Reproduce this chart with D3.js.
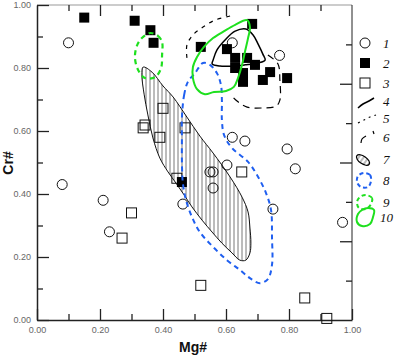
<!DOCTYPE html>
<html><head><meta charset="utf-8">
<script src="https://cdn.jsdelivr.net/npm/d3@7"></script>
<style>body{margin:0;background:#fff}svg{display:block}</style>
</head><body><svg id="c" width="400" height="360"></svg>
<script>
// ---- data (Mg#, Cr#) ----
const openCircles = [[0.10,0.88],[0.08,0.43],[0.21,0.38],[0.23,0.28],[0.463,0.368],[0.62,0.88],[0.77,0.84],
  [0.62,0.58],[0.66,0.568],[0.794,0.543],[0.82,0.48],[0.603,0.492],[0.549,0.47],[0.559,0.47],[0.559,0.419],
  [0.749,0.352],[0.97,0.31]];
const filledSquares = [[0.15,0.96],[0.31,0.95],[0.36,0.92],[0.37,0.88],[0.46,0.438],[0.683,0.94],[0.52,0.867],
  [0.603,0.86],[0.629,0.832],[0.667,0.832],[0.692,0.81],[0.629,0.80],[0.654,0.784],[0.654,0.756],[0.717,0.762],
  [0.74,0.787],[0.794,0.768]];
const openSquares = [[0.40,0.672],[0.343,0.619],[0.337,0.61],[0.39,0.58],[0.47,0.61],[0.444,0.45],[0.30,0.34],
  [0.27,0.26],[0.65,0.47],[0.52,0.11],[0.85,0.07],[0.92,0.005]];
// field 4: solid black
const field4 = [[0.559,0.825],[0.571,0.857],[0.597,0.889],[0.629,0.917],[0.663,0.924],[0.686,0.905],[0.702,0.876],
  [0.717,0.844],[0.724,0.825],[0.702,0.816],[0.660,0.810],[0.619,0.806],[0.581,0.806],[0.556,0.813]];
// field 5: short dashes
const field5 = [[0.476,0.832],[0.476,0.873],[0.495,0.905],[0.527,0.930],[0.565,0.952],[0.613,0.965]];
// field 6: long dashes
const field6 = [[0.733,0.841],[0.765,0.813],[0.771,0.762],[0.771,0.698],[0.759,0.679],[0.714,0.673],[0.667,0.676],
  [0.635,0.695],[0.613,0.717]];
// field 7: hatched
const field7 = [[0.337,0.803],[0.365,0.787],[0.400,0.743],[0.432,0.708],[0.476,0.644],[0.517,0.584],[0.559,0.530],
  [0.613,0.454],[0.651,0.390],[0.670,0.343],[0.676,0.292],[0.679,0.244],[0.676,0.213],[0.663,0.190],[0.644,0.190],
  [0.619,0.213],[0.587,0.244],[0.556,0.279],[0.524,0.317],[0.492,0.359],[0.467,0.397],[0.441,0.435],[0.416,0.470],
  [0.390,0.514],[0.368,0.578],[0.352,0.651],[0.340,0.717],[0.333,0.778]];
// field 8: blue dashed
const field8 = [[0.460,0.641],[0.467,0.714],[0.479,0.756],[0.502,0.784],[0.527,0.816],[0.549,0.810],[0.571,0.784],
  [0.584,0.746],[0.587,0.698],[0.587,0.635],[0.594,0.587],[0.619,0.546],[0.670,0.502],[0.702,0.454],[0.727,0.403],
  [0.743,0.349],[0.746,0.263],[0.746,0.175],[0.733,0.130],[0.708,0.117],[0.676,0.133],[0.644,0.159],[0.603,0.190],
  [0.559,0.232],[0.517,0.279],[0.492,0.327],[0.473,0.381],[0.463,0.435],[0.460,0.508],[0.460,0.581]];
// field 9: green dashed
const field9 = [[0.359,0.911],[0.384,0.902],[0.397,0.883],[0.397,0.841],[0.394,0.800],[0.375,0.771],[0.343,0.768],
  [0.321,0.794],[0.311,0.832],[0.317,0.870],[0.333,0.895]];
// field 10: green solid
const field10 = [[0.667,0.952],[0.676,0.930],[0.670,0.895],[0.660,0.851],[0.651,0.810],[0.638,0.768],[0.625,0.740],
  [0.600,0.727],[0.562,0.724],[0.533,0.717],[0.508,0.733],[0.495,0.768],[0.495,0.803],[0.508,0.835],[0.530,0.867],
  [0.559,0.895],[0.594,0.917],[0.629,0.937]];
const xTicks = [0,0.2,0.4,0.6,0.8,1.0];
const yTicks = [0,0.2,0.4,0.6,0.8,1.0];
const legendLabels = ["1","2","3","4","5","6","7","8","9","10"];

const BLUE = "#1f5ff0", GREEN = "#1ee01e";
const svg = d3.select("#c");
const x = d3.scaleLinear().domain([0,1]).range([37,352]);
const y = d3.scaleLinear().domain([0,1]).range([320,5]);
const yR = d3.scaleLinear().domain([0,1]).range([320,5]);

const defs = svg.append("defs");
const pat = defs.append("pattern").attr("id","hatch").attr("patternUnits","userSpaceOnUse")
  .attr("width",4).attr("height",4);
pat.append("line").attr("x1",2).attr("x2",2).attr("y1",0).attr("y2",4).attr("stroke","#555").attr("stroke-width",0.8);

// frame top/right
svg.append("line").attr("x1",37).attr("x2",352).attr("y1",5).attr("y2",5).attr("stroke","#999").attr("stroke-width",1);
svg.append("line").attr("x1",352).attr("x2",352).attr("y1",5).attr("y2",320).attr("stroke","#222").attr("stroke-width",1);

const fmt = d3.format(".2f");
function styleAxis(g){ g.selectAll("line").attr("stroke","#222").attr("stroke-width",1.3);
  g.selectAll("path").attr("stroke","#222").attr("stroke-width",1.5);
  g.selectAll("text").attr("fill","#666").attr("font-family","Liberation Sans, Arial, sans-serif").attr("font-size",9); }
const minorX = d3.range(0.1,1,0.2);
// bottom
svg.append("g").attr("transform","translate(0,320)")
  .call(d3.axisBottom(x).tickValues(xTicks).tickFormat(fmt).tickSizeInner(-11).tickSizeOuter(0).tickPadding(7)).call(styleAxis);
svg.append("g").attr("transform","translate(0,320)")
  .call(d3.axisBottom(x).tickValues(minorX).tickFormat("").tickSizeInner(-6).tickSizeOuter(0)).call(styleAxis)
  .select(".domain").remove();
// left
svg.append("g").attr("transform","translate(37,0)")
  .call(d3.axisLeft(y).tickValues(yTicks).tickFormat(fmt).tickSizeInner(-12).tickSizeOuter(0).tickPadding(6)).call(styleAxis);
svg.append("g").attr("transform","translate(37,0)")
  .call(d3.axisLeft(y).tickValues(minorX).tickFormat("").tickSizeInner(-6).tickSizeOuter(0)).call(styleAxis)
  .select(".domain").remove();
// top
svg.append("g").attr("transform","translate(0,5)")
  .call(d3.axisTop(x).tickValues([0.2,0.4,0.6,0.8]).tickFormat("").tickSizeInner(-11).tickSizeOuter(0)).call(styleAxis)
  .select(".domain").remove();
svg.append("g").attr("transform","translate(0,5)")
  .call(d3.axisTop(x).tickValues(minorX).tickFormat("").tickSizeInner(-6).tickSizeOuter(0)).call(styleAxis)
  .select(".domain").remove();
// right (different division)
svg.append("g").attr("transform","translate(352,0)")
  .call(d3.axisRight(yR).tickValues([0.25,0.5,0.75]).tickFormat("").tickSizeInner(-12).tickSizeOuter(0)).call(styleAxis)
  .select(".domain").remove();
svg.append("g").attr("transform","translate(352,0)")
  .call(d3.axisRight(yR).tickValues([0.125,0.375,0.625,0.875]).tickFormat("").tickSizeInner(-6).tickSizeOuter(0)).call(styleAxis)
  .select(".domain").remove();

// axis titles
svg.append("text").attr("x",193).attr("y",352).attr("text-anchor","middle").attr("font-family","Liberation Sans, Arial, sans-serif")
  .attr("font-weight","bold").attr("font-size",14).attr("fill","#111").text("Mg#");
svg.append("text").attr("transform","translate(13,163) rotate(-90)").attr("text-anchor","middle").attr("font-family","Liberation Sans, Arial, sans-serif")
  .attr("font-weight","bold").attr("font-size",14).attr("fill","#111").text("Cr#");

const closed = d3.line().x(d=>x(d[0])).y(d=>y(d[1])).curve(d3.curveCatmullRomClosed.alpha(0.5));
const open = d3.line().x(d=>x(d[0])).y(d=>y(d[1])).curve(d3.curveCatmullRom.alpha(0.5));

// hatched field 7
svg.append("path").attr("d",closed(field7)).attr("fill","url(#hatch)").attr("stroke","#111").attr("stroke-width",1);

// points
svg.append("g").selectAll("circle").data(openCircles).join("circle")
  .attr("cx",d=>x(d[0])).attr("cy",d=>y(d[1])).attr("r",5).attr("fill","none").attr("stroke","#111").attr("stroke-width",1);
svg.append("g").selectAll("rect").data(openSquares).join("rect")
  .attr("x",d=>x(d[0])-5).attr("y",d=>y(d[1])-5).attr("width",10).attr("height",10).attr("fill","none").attr("stroke","#111").attr("stroke-width",1);
svg.append("g").selectAll("rect").data(filledSquares).join("rect")
  .attr("x",d=>x(d[0])-5).attr("y",d=>y(d[1])-5).attr("width",10).attr("height",10).attr("fill","#000");

// fields
svg.append("path").attr("d",closed(field8)).attr("fill","none").attr("stroke",BLUE).attr("stroke-width",2).attr("stroke-dasharray","5,4");
svg.append("path").attr("d",closed(field9)).attr("fill","none").attr("stroke",GREEN).attr("stroke-width",2.2).attr("stroke-dasharray","5,4");
svg.append("path").attr("d",closed(field4)).attr("fill","none").attr("stroke","#000").attr("stroke-width",1.5);
svg.append("path").attr("d",open(field5)).attr("fill","none").attr("stroke","#000").attr("stroke-width",1.2).attr("stroke-dasharray","4,5");
svg.append("path").attr("d",open(field6)).attr("fill","none").attr("stroke","#000").attr("stroke-width",1.2).attr("stroke-dasharray","7,5");
svg.append("path").attr("d",closed(field10)).attr("fill","none").attr("stroke",GREEN).attr("stroke-width",2);

// legend
const ly = [43,63,83,101,118,137,159,180,202,217];
const lg = svg.append("g");
lg.selectAll("text").data(legendLabels).join("text")
  .attr("x",(d,i)=> i===9?380:383).attr("y",(d,i)=>ly[i]+4.5)
  .attr("font-family","Liberation Serif, Times New Roman, serif").attr("font-style","italic").attr("font-size",13).attr("fill","#111")
  .text(d=>d);
lg.append("circle").attr("cx",365).attr("cy",ly[0]).attr("r",5).attr("fill","none").attr("stroke","#111");
lg.append("rect").attr("x",360).attr("y",ly[1]-5).attr("width",10).attr("height",10).attr("fill","#000");
lg.append("rect").attr("x",360).attr("y",ly[2]-5).attr("width",10).attr("height",10).attr("fill","none").attr("stroke","#111");
const pl = d3.line().curve(d3.curveCatmullRom);
const plc = d3.line().curve(d3.curveCatmullRomClosed);
lg.append("path").attr("d",pl([[358,108],[363,104],[369,101],[374,98]])).attr("fill","none").attr("stroke","#000").attr("stroke-width",1.5);
lg.append("path").attr("d",pl([[358,123],[364,120],[370,117],[376,115]])).attr("fill","none").attr("stroke","#000").attr("stroke-width",1.2).attr("stroke-dasharray","2,4");
lg.append("path").attr("d",pl([[361,143],[362,139],[366,136]])).attr("fill","none").attr("stroke","#000").attr("stroke-width",1.2);
lg.append("path").attr("d",pl([[373,131],[374,134]])).attr("fill","none").attr("stroke","#000").attr("stroke-width",1.2);
lg.append("ellipse").attr("cx",363).attr("cy",160).attr("rx",7.5).attr("ry",3.8).attr("transform","rotate(35,363,160)")
  .attr("fill","url(#hatch)").attr("stroke","#000").attr("stroke-width",1.2);
lg.append("path").attr("d",plc([[364,173],[370,175],[371,181],[368,187],[361,187],[357,182],[358,176]])).attr("fill","none")
  .attr("stroke",BLUE).attr("stroke-width",2).attr("stroke-dasharray","4,3");
lg.append("path").attr("d",plc([[366,195],[372,198],[371,204],[366,209],[359,208],[357,202],[360,197]])).attr("fill","none")
  .attr("stroke",GREEN).attr("stroke-width",2).attr("stroke-dasharray","4,3");
lg.append("path").attr("d",plc([[368,208],[374,210],[373,217],[370,224],[362,226],[357,222],[358,214],[362,210]])).attr("fill","none")
  .attr("stroke",GREEN).attr("stroke-width",2);
</script></body></html>
